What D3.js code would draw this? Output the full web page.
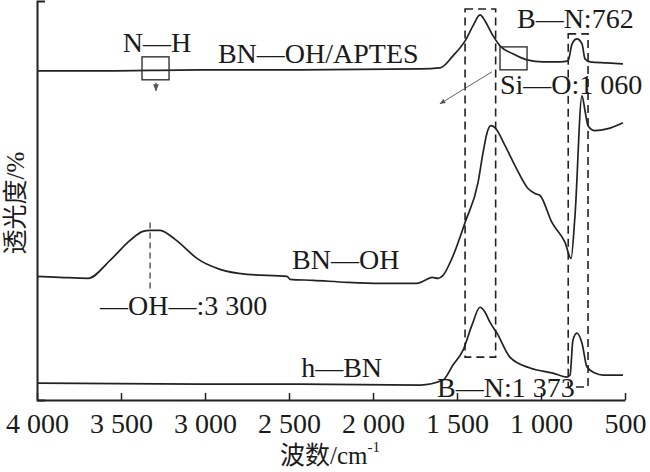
<!DOCTYPE html>
<html>
<head>
<meta charset="utf-8">
<script src="https://cdnjs.cloudflare.com/ajax/libs/d3/7.8.5/d3.min.js"></script>
<style>
body { margin: 0; background: #fff; }
text { font-family: "Liberation Serif", "Times New Roman", "Noto Sans CJK SC", serif; fill: #1a1a1a; }
</style>
</head>
<body>
<div class="tool"></div>
<script>
var width = 650, height = 472;

// wavenumber (cm-1) and transmittance (%, arbitrary offset)
var wnApts = [4000, 3625, 3030, 2435, 1720, 1601, 1524, 1452, 1405, 1363, 1333, 1292, 1244, 1167, 1083, 988, 887, 839, 815, 786, 756, 738, 708, 607, 512];
var tApts  = [82.5, 82.5, 82.75, 82.75, 83, 83.25, 86.25, 90, 93.75, 96.5, 95, 91.75, 88.75, 86.75, 85.25, 84.75, 84.75, 85, 89.25, 90.5, 89.25, 85.5, 84.75, 84.5, 84.25];

var wnOh = [4000, 3863, 3696, 3565, 3446, 3369, 3327, 3268, 3208, 3149, 3048, 2911, 2750, 2512, 2494, 2357, 2155, 1958, 1738, 1690, 1649, 1613, 1583, 1530, 1452, 1375, 1345, 1321, 1298, 1274, 1214, 1155, 1077, 1036, 1006, 935, 857, 821, 798, 756, 738, 720, 679, 601, 512];
var tOh  = [31, 30.75, 30.5, 35, 40, 42.25, 42.5, 42.5, 41.25, 39.25, 35.5, 32.75, 31.5, 31, 30.25, 30, 29.5, 29.25, 29.25, 30, 30.75, 30.5, 31.25, 35.5, 44.5, 54.5, 62, 67, 68.75, 68.25, 63.75, 58.75, 53, 51.75, 51.25, 44.5, 39.5, 35.5, 46, 76.25, 72.5, 68.75, 67.5, 68, 69.5];

var wnHbn = [4000, 3030, 2435, 1720, 1583, 1524, 1464, 1411, 1363, 1333, 1304, 1262, 1185, 1065, 929, 845, 827, 810, 786, 756, 726, 679, 631, 512];
var tHbn  = [4.25, 4, 4, 3.75, 5, 8.75, 12.5, 18.75, 23.25, 22, 19.5, 16.75, 10.75, 8, 6.75, 5.75, 6.25, 15, 16.75, 14.25, 8.25, 6.75, 6.25, 6.25];

var xTicks = [4000, 3500, 3000, 2500, 2000, 1500, 1000, 500];
var xTickLabels = ["4 000", "3 500", "3 000", "2 500", "2 000", "1 500", "1 000", "500"];

var labelTexts = ["N—H", "BN—OH/APTES", "B—N:762", "Si—O:1 060", "BN—OH", "—OH—:3 300", "h—BN", "B—N:1 373"];
var labelWn    = [3286, 2923, 1143, 1244, 2482, 3625, 1946, 1619];
var labelT     = [87.25, 84.5, 93.25, 76.75, 32.75, 21.25, 5.75, 0.75];
var labelAnchor = ["middle", "start", "start", "start", "start", "start", "end", "start"];

var svg = d3.select(".tool")
        .append("svg")
        .attr("width", width)
        .attr("height", height);

var x = d3.scaleLinear().domain([4000, 500]).range([37, 625]);
var y = d3.scaleLinear().domain([0, 100]).range([400, 1]);

svg.append("defs").append("marker")
    .attr("id", "arr")
    .attr("viewBox", "0 0 10 10")
    .attr("refX", 9).attr("refY", 5)
    .attr("markerWidth", 6).attr("markerHeight", 6)
    .attr("orient", "auto-start-reverse")
  .append("path")
    .attr("d", "M0,1L10,5L0,9z")
    .attr("fill", "#555");

// axes
var xAxis = svg.append("g")
    .attr("transform", "translate(0,400)")
    .call(d3.axisBottom(x).tickValues(xTicks).tickSizeInner(-7).tickSizeOuter(0)
        .tickFormat(function(d, i){ return xTickLabels[i]; }));
xAxis.select(".domain").attr("stroke", "#222").attr("stroke-width", 2);
xAxis.selectAll(".tick line").attr("stroke", "#222").attr("stroke-width", 1.5);
xAxis.selectAll(".tick text")
    .attr("y", 33).attr("dy", 0)
    .style("font-size", "28px")
    .style("font-family", "Liberation Serif");

var yAxis = svg.append("g")
    .attr("transform", "translate(37,0)")
    .call(d3.axisRight(y).tickValues([]).tickSizeOuter(8));
yAxis.select(".domain").attr("stroke", "#222").attr("stroke-width", 2);

// spectra
var line = d3.line()
    .x(function(d){ return x(d[0]); })
    .y(function(d){ return y(d[1]); })
    .curve(d3.curveMonotoneX);

[[wnApts, tApts], [wnOh, tOh], [wnHbn, tHbn]].forEach(function(s){
  svg.append("path")
      .datum(d3.zip(s[0], s[1]))
      .attr("d", line)
      .attr("fill", "none")
      .attr("stroke", "#222")
      .attr("stroke-width", 1.7);
});

// dashed boxes around B-N bands
var dashBoxes = [[1452, 1270, 98, 10.75], [838, 720, 91.75, 3.25]];
dashBoxes.forEach(function(b){
  svg.append("rect")
      .attr("x", x(b[0])).attr("y", y(b[2]))
      .attr("width", x(b[1]) - x(b[0]))
      .attr("height", y(b[3]) - y(b[2]))
      .attr("fill", "none")
      .attr("stroke", "#222")
      .attr("stroke-width", 1.6)
      .attr("stroke-dasharray", "8,5");
});

// small solid boxes (N-H, Si-O)
var solidBoxes = [[3375, 3214, 86, 80.25], [1244, 1083, 88.5, 82.75]];
solidBoxes.forEach(function(b){
  svg.append("rect")
      .attr("x", x(b[0])).attr("y", y(b[2]))
      .attr("width", x(b[1]) - x(b[0]))
      .attr("height", y(b[3]) - y(b[2]))
      .attr("fill", "none")
      .attr("stroke", "#333")
      .attr("stroke-width", 1.4);
});

// arrows
svg.append("line")
    .attr("x1", x(3292)).attr("y1", y(79.5))
    .attr("x2", x(3292)).attr("y2", y(77.5))
    .attr("stroke", "#333").attr("stroke-width", 1.2)
    .attr("marker-end", "url(#arr)");
svg.append("line")
    .attr("x1", x(1292)).attr("y1", y(82.25))
    .attr("x2", x(1601)).attr("y2", y(74.25))
    .attr("stroke", "#666").attr("stroke-width", 1)
    .attr("marker-end", "url(#arr)");

// -OH marker
svg.append("line")
    .attr("x1", x(3327)).attr("y1", y(44.5))
    .attr("x2", x(3327)).attr("y2", y(27.5))
    .attr("stroke", "#333").attr("stroke-width", 1.2)
    .attr("stroke-dasharray", "6,4");

// labels
svg.selectAll(".lab")
    .data(labelTexts)
    .enter().append("text")
    .attr("class", "lab")
    .attr("x", function(d, i){ return x(labelWn[i]); })
    .attr("y", function(d, i){ return y(labelT[i]); })
    .attr("text-anchor", function(d, i){ return labelAnchor[i]; })
    .style("font-size", "28px")
    .text(function(d){ return d; });

// axis titles
svg.append("text")
    .attr("transform", "translate(24,203) rotate(-90)")
    .attr("text-anchor", "middle")
    .style("font-size", "25px")
    .text("透光度/%");

var xt = svg.append("text")
    .attr("x", 330).attr("y", 464)
    .attr("text-anchor", "middle")
    .style("font-size", "25px");
xt.append("tspan").text("波数/cm");
xt.append("tspan").attr("dy", -12).style("font-size", "15px").text("-1");
</script>
</body>
</html>
